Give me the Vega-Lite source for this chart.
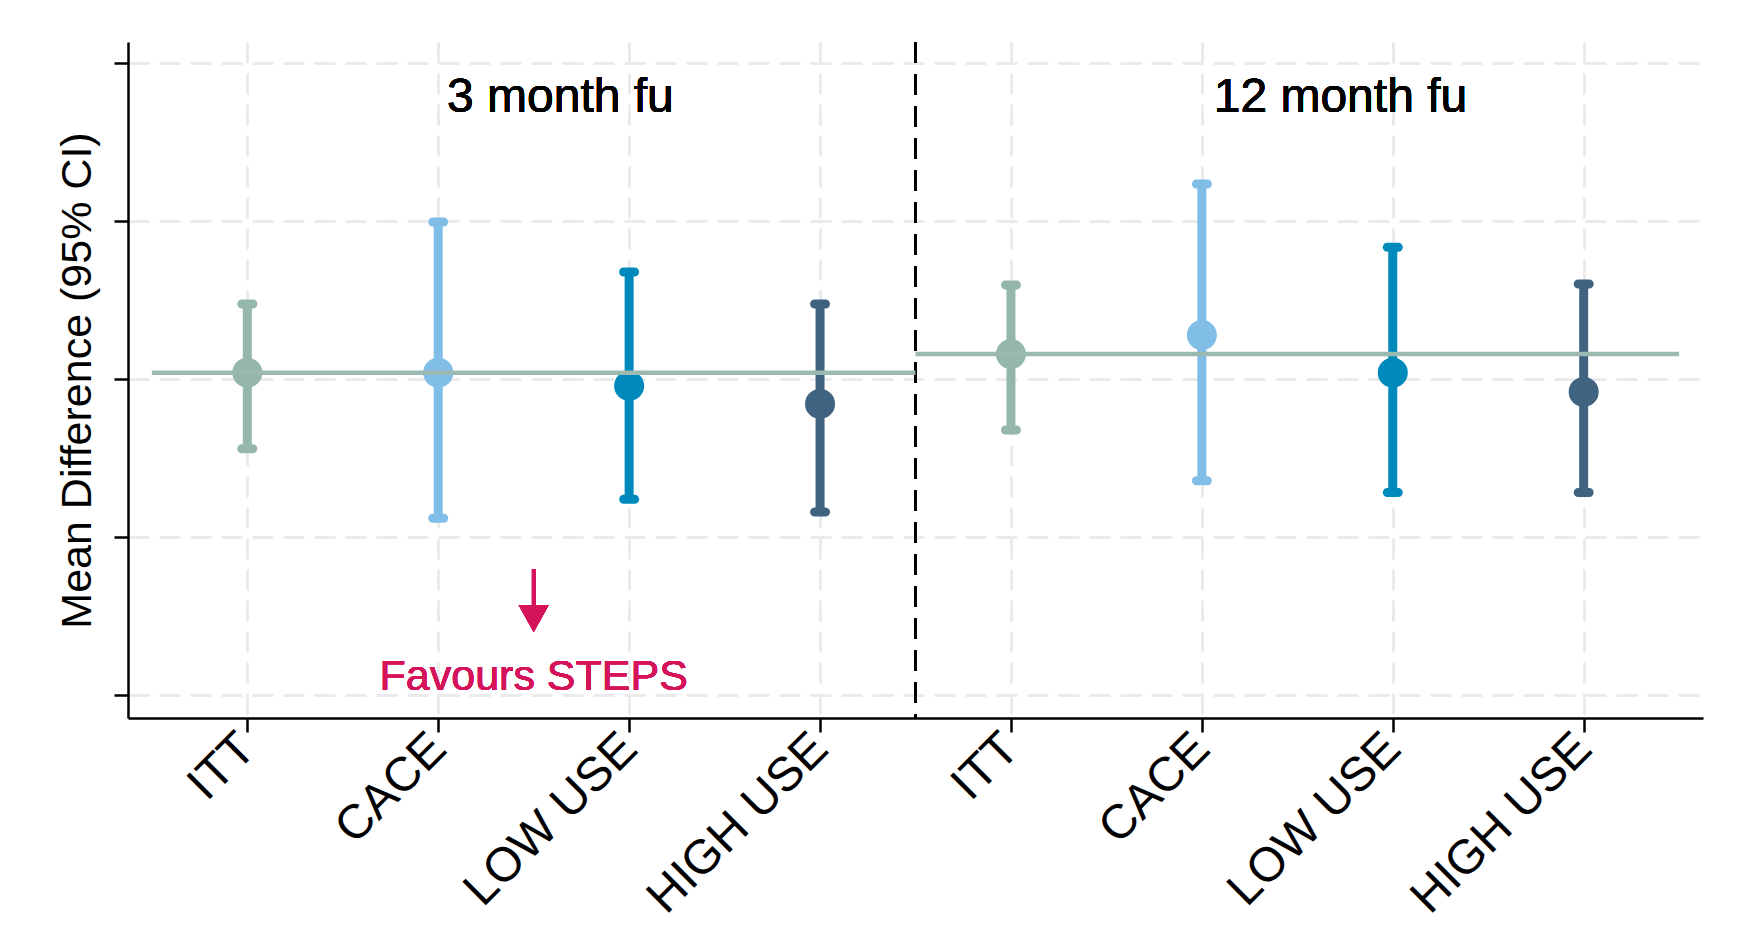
{
  "$schema": "https://vega.github.io/schema/vega-lite/v6.json",
  "width": 1575,
  "height": 676,
  "autosize": {"type": "none"},
  "padding": {"left": 128, "top": 42, "right": 44, "bottom": 225},
  "background": "white",
  "config": {
    "font": "Liberation Sans",
    "view": {"stroke": null},
    "axis": {"gridColor": "#ebebeb", "gridWidth": 3, "gridDash": [21, 10], "domainColor": "black", "tickColor": "black", "labelColor": "black", "titleColor": "black"}
  },
  "datasets": {
    "est": [
      {"period": "3 month fu", "analysis": "ITT", "pos": 1, "est": 0.04, "lo": -0.441, "hi": 0.475},
      {"period": "3 month fu", "analysis": "CACE", "pos": 2, "est": 0.04, "lo": -0.882, "hi": 0.994},
      {"period": "3 month fu", "analysis": "LOW USE", "pos": 3, "est": -0.044, "lo": -0.761, "hi": 0.677},
      {"period": "3 month fu", "analysis": "HIGH USE", "pos": 4, "est": -0.158, "lo": -0.842, "hi": 0.475},
      {"period": "12 month fu", "analysis": "ITT", "pos": 5, "est": 0.158, "lo": -0.323, "hi": 0.595},
      {"period": "12 month fu", "analysis": "CACE", "pos": 6, "est": 0.278, "lo": -0.644, "hi": 1.234},
      {"period": "12 month fu", "analysis": "LOW USE", "pos": 7, "est": 0.04, "lo": -0.718, "hi": 0.834},
      {"period": "12 month fu", "analysis": "HIGH USE", "pos": 8, "est": -0.082, "lo": -0.718, "hi": 0.601}
    ],
    "ref": [
      {"period": "3 month fu", "from": 0.5, "to": 4.5, "itt": 0.04},
      {"period": "12 month fu", "from": 4.5, "to": 8.5, "itt": 0.158}
    ]
  },
  "data": {"name": "est"},
  "layer": [
    {
      "mark": {"type": "rule", "color": "black", "strokeWidth": 2.5, "strokeDash": [21, 11]},
      "encoding": {
        "x": {
          "datum": 4.5,
          "type": "quantitative",
          "scale": {"domain": [0.375, 8.625], "nice": false, "zero": false},
          "axis": {
            "values": [1, 2, 3, 4, 5, 6, 7, 8],
            "title": null,
            "labelExpr": "['','ITT','CACE','LOW USE','HIGH USE','ITT','CACE','LOW USE','HIGH USE'][datum.value]",
            "labelAngle": -45,
            "labelAlign": "right",
            "labelBaseline": "middle",
            "labelFontSize": 48,
            "labelPadding": 9,
            "labelLimit": 0,
            "labelFlush": false,
            "labelOverlap": false,
            "tickSize": 14,
            "tickWidth": 2.5,
            "domainWidth": 2.5,
            "grid": true
          }
        }
      }
    },
    {
      "mark": {"type": "rule", "strokeWidth": 9},
      "encoding": {
        "x": {"field": "pos", "type": "quantitative"},
        "y": {
          "field": "lo",
          "type": "quantitative",
          "scale": {"domain": [-2.1456, 2.1329], "nice": false, "zero": false},
          "axis": {
            "values": [-2, -1, 0, 1, 2],
            "labels": false,
            "title": "Mean Difference (95% CI)",
            "titleFontSize": 43,
            "titleFontWeight": "normal",
            "titlePadding": 13,
            "tickSize": 14,
            "tickWidth": 2.5,
            "domainWidth": 2.5,
            "grid": true
          }
        },
        "y2": {"field": "hi"},
        "color": {
          "field": "analysis",
          "type": "nominal",
          "scale": {"domain": ["ITT", "CACE", "LOW USE", "HIGH USE"], "range": ["#94b6ac", "#80bee8", "#008abc", "#3f6380"]},
          "legend": null
        }
      }
    },
    {
      "mark": {"type": "tick", "orient": "horizontal", "size": 20, "thickness": 9, "cornerRadius": 4.5, "opacity": 1},
      "encoding": {
        "x": {"field": "pos", "type": "quantitative"},
        "y": {"field": "lo", "type": "quantitative"},
        "color": {"field": "analysis", "type": "nominal"}
      }
    },
    {
      "mark": {"type": "tick", "orient": "horizontal", "size": 20, "thickness": 9, "cornerRadius": 4.5, "opacity": 1},
      "encoding": {
        "x": {"field": "pos", "type": "quantitative"},
        "y": {"field": "hi", "type": "quantitative"},
        "color": {"field": "analysis", "type": "nominal"}
      }
    },
    {
      "mark": {"type": "point", "filled": true, "opacity": 1, "size": 900, "shape": "circle"},
      "encoding": {
        "x": {"field": "pos", "type": "quantitative"},
        "y": {"field": "est", "type": "quantitative"},
        "color": {"field": "analysis", "type": "nominal"}
      }
    },
    {
      "data": {"name": "ref"},
      "mark": {"type": "rule", "color": "#9ab9b0", "strokeWidth": 4.5},
      "encoding": {
        "x": {"field": "from", "type": "quantitative"},
        "x2": {"field": "to"},
        "y": {"field": "itt", "type": "quantitative"}
      }
    },
    {
      "mark": {"type": "text", "fontSize": 48, "fontWeight": "normal", "color": "black", "align": "center", "baseline": "middle"},
      "encoding": {
        "x": {"datum": 2.64, "type": "quantitative"},
        "y": {"datum": 1.778, "type": "quantitative"},
        "text": {"value": "3 month fu"}
      }
    },
    {
      "mark": {"type": "text", "fontSize": 48, "fontWeight": "normal", "color": "black", "align": "center", "baseline": "middle"},
      "encoding": {
        "x": {"datum": 6.726, "type": "quantitative"},
        "y": {"datum": 1.778, "type": "quantitative"},
        "text": {"value": "12 month fu"}
      }
    },
    {
      "mark": {"type": "rule", "color": "#d5135a", "strokeWidth": 3.5},
      "encoding": {
        "x": {"datum": 2.5, "type": "quantitative"},
        "y": {"datum": -1.203, "type": "quantitative"},
        "y2": {"datum": -1.45}
      }
    },
    {
      "mark": {"type": "point", "filled": true, "opacity": 1, "color": "#d5135a", "size": 900, "shape": "M-1,-0.9L1,-0.9L0,0.9Z"},
      "encoding": {
        "x": {"datum": 2.5, "type": "quantitative"},
        "y": {"datum": -1.516, "type": "quantitative"}
      }
    },
    {
      "mark": {"type": "text", "fontSize": 43, "fontWeight": "normal", "color": "#d5135a", "align": "center", "baseline": "middle"},
      "encoding": {
        "x": {"datum": 2.5, "type": "quantitative"},
        "y": {"datum": -1.889, "type": "quantitative"},
        "text": {"value": "Favours STEPS"}
      }
    }
  ]
}
